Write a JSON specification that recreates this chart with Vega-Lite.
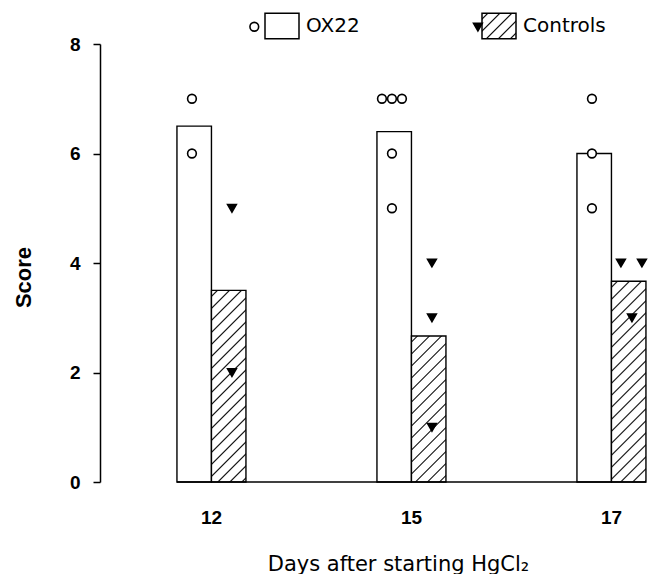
{
  "$schema": "https://vega.github.io/schema/vega-lite/v6.json",
  "width": 550,
  "height": 438,
  "autosize": {"type": "none"},
  "padding": {"left": 100, "top": 44, "right": 0, "bottom": 92},
  "background": "white",
  "data": {
    "values": [
      {"day": "12", "group": "OX22", "score": 7},
      {"day": "12", "group": "OX22", "score": 6},
      {"day": "12", "group": "Controls", "score": 5},
      {"day": "12", "group": "Controls", "score": 2},
      {"day": "15", "group": "OX22", "score": 7},
      {"day": "15", "group": "OX22", "score": 7},
      {"day": "15", "group": "OX22", "score": 7},
      {"day": "15", "group": "OX22", "score": 6},
      {"day": "15", "group": "OX22", "score": 5},
      {"day": "15", "group": "Controls", "score": 4},
      {"day": "15", "group": "Controls", "score": 3},
      {"day": "15", "group": "Controls", "score": 1},
      {"day": "17", "group": "OX22", "score": 7},
      {"day": "17", "group": "OX22", "score": 6},
      {"day": "17", "group": "OX22", "score": 5},
      {"day": "17", "group": "Controls", "score": 4},
      {"day": "17", "group": "Controls", "score": 4},
      {"day": "17", "group": "Controls", "score": 3}
    ]
  },
  "layer": [
    {
      "mark": {"type": "bar", "stroke": "black", "strokeWidth": 1.4},
      "encoding": {
        "x": {
          "field": "day", "type": "ordinal", "title": "Days after starting HgCl₂",
          "scale": {"type": "band", "domain": ["12", "15", "17"], "paddingInner": 0.655, "paddingOuter": 0.2025, "align": 0.95},
          "axis": {
            "domain": false, "ticks": false, "tickSize": 0, "labelAngle": 0,
            "labelFontSize": 19, "labelFontWeight": "bold", "labelPadding": 26,
            "titleFont": "DejaVu Sans", "titleFontSize": 21, "titleFontWeight": "normal",
            "titleX": 298, "titleY": 88, "titleBaseline": "alphabetic", "titleAlign": "center", "titleAnchor": null
          }
        },
        "xOffset": {"field": "group", "type": "nominal", "scale": {"domain": ["OX22", "Controls"], "paddingInner": 0, "paddingOuter": 0}},
        "y": {
          "aggregate": "mean", "field": "score", "type": "quantitative", "title": "Score",
          "scale": {"domain": [0, 8], "nice": false},
          "axis": {
            "values": [0, 2, 4, 6, 8], "tickSize": 7, "tickWidth": 1.5, "domainWidth": 1.5,
            "labelFontSize": 19, "labelFontWeight": "bold", "labelPadding": 13,
            "titleFontSize": 22, "titleFontWeight": "bold", "titleX": -77, "titleY": 233,
            "titleAngle": -90, "titleAlign": "center", "titleBaseline": "middle", "titleAnchor": null
          }
        },
        "fill": {
          "field": "group", "type": "nominal", "sort": "descending",
          "scale": {"range": [
            "white",
            {"expr": "{gradient: 'linear', x1: 0, y1: 0, x2: 1.12, y2: 0.84, stops: [{offset: 0.0756, color: '#fff'}, {offset: 0.1008, color: '#000'}, {offset: 0.1260, color: '#fff'}, {offset: 0.2773, color: '#fff'}, {offset: 0.3025, color: '#000'}, {offset: 0.3277, color: '#fff'}, {offset: 0.4790, color: '#fff'}, {offset: 0.5042, color: '#000'}, {offset: 0.5294, color: '#fff'}, {offset: 0.6807, color: '#fff'}, {offset: 0.7059, color: '#000'}, {offset: 0.7311, color: '#fff'}, {offset: 0.8824, color: '#fff'}, {offset: 0.9076, color: '#000'}, {offset: 0.9328, color: '#fff'}]}"}
          ]},
          "legend": {
            "orient": "none", "legendX": 164, "legendY": -36.25, "direction": "horizontal", "columns": 2,
            "columnPadding": 119, "title": null, "padding": 0,
            "symbolType": "M-1,-0.75H1V0.75H-1Z", "symbolSize": 1156, "symbolStrokeWidth": 1.5, "symbolStrokeColor": "black",
            "labelFont": "DejaVu Sans", "labelFontSize": 20, "labelColor": "black", "labelOffset": 6
          },
          "condition": [
            {
              "test": "datum.group === 'Controls' && datum.day === '12'",
              "value": {"gradient": "linear", "x1": 0, "y1": 0, "x2": 0.2058, "y2": 1.143, "stops": [
                {"offset": 0.0199, "color": "#fff"}, {"offset": 0.0265, "color": "#000"}, {"offset": 0.0331, "color": "#fff"},
                {"offset": 0.0730, "color": "#fff"}, {"offset": 0.0796, "color": "#000"}, {"offset": 0.0862, "color": "#fff"},
                {"offset": 0.1261, "color": "#fff"}, {"offset": 0.1327, "color": "#000"}, {"offset": 0.1393, "color": "#fff"},
                {"offset": 0.1791, "color": "#fff"}, {"offset": 0.1857, "color": "#000"}, {"offset": 0.1923, "color": "#fff"},
                {"offset": 0.2322, "color": "#fff"}, {"offset": 0.2388, "color": "#000"}, {"offset": 0.2454, "color": "#fff"},
                {"offset": 0.2853, "color": "#fff"}, {"offset": 0.2919, "color": "#000"}, {"offset": 0.2985, "color": "#fff"},
                {"offset": 0.3383, "color": "#fff"}, {"offset": 0.3449, "color": "#000"}, {"offset": 0.3515, "color": "#fff"},
                {"offset": 0.3914, "color": "#fff"}, {"offset": 0.3980, "color": "#000"}, {"offset": 0.4046, "color": "#fff"},
                {"offset": 0.4445, "color": "#fff"}, {"offset": 0.4511, "color": "#000"}, {"offset": 0.4577, "color": "#fff"},
                {"offset": 0.4976, "color": "#fff"}, {"offset": 0.5042, "color": "#000"}, {"offset": 0.5108, "color": "#fff"},
                {"offset": 0.5506, "color": "#fff"}, {"offset": 0.5572, "color": "#000"}, {"offset": 0.5638, "color": "#fff"},
                {"offset": 0.6037, "color": "#fff"}, {"offset": 0.6103, "color": "#000"}, {"offset": 0.6169, "color": "#fff"},
                {"offset": 0.6568, "color": "#fff"}, {"offset": 0.6634, "color": "#000"}, {"offset": 0.6700, "color": "#fff"},
                {"offset": 0.7098, "color": "#fff"}, {"offset": 0.7164, "color": "#000"}, {"offset": 0.7230, "color": "#fff"},
                {"offset": 0.7629, "color": "#fff"}, {"offset": 0.7695, "color": "#000"}, {"offset": 0.7761, "color": "#fff"},
                {"offset": 0.8160, "color": "#fff"}, {"offset": 0.8226, "color": "#000"}, {"offset": 0.8292, "color": "#fff"},
                {"offset": 0.8690, "color": "#fff"}, {"offset": 0.8756, "color": "#000"}, {"offset": 0.8822, "color": "#fff"},
                {"offset": 0.9221, "color": "#fff"}, {"offset": 0.9287, "color": "#000"}, {"offset": 0.9353, "color": "#fff"},
                {"offset": 0.9752, "color": "#fff"}, {"offset": 0.9818, "color": "#000"}, {"offset": 0.9884, "color": "#fff"}
              ]}
            },
            {
              "test": "datum.group === 'Controls' && datum.day === '15'",
              "value": {"gradient": "linear", "x1": 0, "y1": 0, "x2": 0.2767, "y2": 1.1709, "stops": [
                {"offset": 0.0249, "color": "#fff"}, {"offset": 0.0332, "color": "#000"}, {"offset": 0.0415, "color": "#fff"},
                {"offset": 0.0914, "color": "#fff"}, {"offset": 0.0997, "color": "#000"}, {"offset": 0.1080, "color": "#fff"},
                {"offset": 0.1579, "color": "#fff"}, {"offset": 0.1662, "color": "#000"}, {"offset": 0.1745, "color": "#fff"},
                {"offset": 0.2244, "color": "#fff"}, {"offset": 0.2327, "color": "#000"}, {"offset": 0.2410, "color": "#fff"},
                {"offset": 0.2909, "color": "#fff"}, {"offset": 0.2992, "color": "#000"}, {"offset": 0.3075, "color": "#fff"},
                {"offset": 0.3574, "color": "#fff"}, {"offset": 0.3657, "color": "#000"}, {"offset": 0.3740, "color": "#fff"},
                {"offset": 0.4238, "color": "#fff"}, {"offset": 0.4321, "color": "#000"}, {"offset": 0.4404, "color": "#fff"},
                {"offset": 0.4903, "color": "#fff"}, {"offset": 0.4986, "color": "#000"}, {"offset": 0.5069, "color": "#fff"},
                {"offset": 0.5568, "color": "#fff"}, {"offset": 0.5651, "color": "#000"}, {"offset": 0.5734, "color": "#fff"},
                {"offset": 0.6233, "color": "#fff"}, {"offset": 0.6316, "color": "#000"}, {"offset": 0.6399, "color": "#fff"},
                {"offset": 0.6898, "color": "#fff"}, {"offset": 0.6981, "color": "#000"}, {"offset": 0.7064, "color": "#fff"},
                {"offset": 0.7562, "color": "#fff"}, {"offset": 0.7645, "color": "#000"}, {"offset": 0.7728, "color": "#fff"},
                {"offset": 0.8227, "color": "#fff"}, {"offset": 0.8310, "color": "#000"}, {"offset": 0.8393, "color": "#fff"},
                {"offset": 0.8892, "color": "#fff"}, {"offset": 0.8975, "color": "#000"}, {"offset": 0.9058, "color": "#fff"},
                {"offset": 0.9557, "color": "#fff"}, {"offset": 0.9640, "color": "#000"}, {"offset": 0.9723, "color": "#fff"}
              ]}
            },
            {
              "test": "datum.group === 'Controls' && datum.day === '17'",
              "value": {"gradient": "linear", "x1": 0, "y1": 0, "x2": 0.1956, "y2": 1.1382, "stops": [
                {"offset": 0.0191, "color": "#fff"}, {"offset": 0.0255, "color": "#000"}, {"offset": 0.0319, "color": "#fff"},
                {"offset": 0.0701, "color": "#fff"}, {"offset": 0.0765, "color": "#000"}, {"offset": 0.0829, "color": "#fff"},
                {"offset": 0.1211, "color": "#fff"}, {"offset": 0.1275, "color": "#000"}, {"offset": 0.1339, "color": "#fff"},
                {"offset": 0.1721, "color": "#fff"}, {"offset": 0.1785, "color": "#000"}, {"offset": 0.1849, "color": "#fff"},
                {"offset": 0.2231, "color": "#fff"}, {"offset": 0.2295, "color": "#000"}, {"offset": 0.2359, "color": "#fff"},
                {"offset": 0.2742, "color": "#fff"}, {"offset": 0.2806, "color": "#000"}, {"offset": 0.2870, "color": "#fff"},
                {"offset": 0.3252, "color": "#fff"}, {"offset": 0.3316, "color": "#000"}, {"offset": 0.3380, "color": "#fff"},
                {"offset": 0.3762, "color": "#fff"}, {"offset": 0.3826, "color": "#000"}, {"offset": 0.3890, "color": "#fff"},
                {"offset": 0.4272, "color": "#fff"}, {"offset": 0.4336, "color": "#000"}, {"offset": 0.4400, "color": "#fff"},
                {"offset": 0.4782, "color": "#fff"}, {"offset": 0.4846, "color": "#000"}, {"offset": 0.4910, "color": "#fff"},
                {"offset": 0.5292, "color": "#fff"}, {"offset": 0.5356, "color": "#000"}, {"offset": 0.5420, "color": "#fff"},
                {"offset": 0.5802, "color": "#fff"}, {"offset": 0.5866, "color": "#000"}, {"offset": 0.5930, "color": "#fff"},
                {"offset": 0.6312, "color": "#fff"}, {"offset": 0.6376, "color": "#000"}, {"offset": 0.6440, "color": "#fff"},
                {"offset": 0.6822, "color": "#fff"}, {"offset": 0.6886, "color": "#000"}, {"offset": 0.6950, "color": "#fff"},
                {"offset": 0.7332, "color": "#fff"}, {"offset": 0.7396, "color": "#000"}, {"offset": 0.7460, "color": "#fff"},
                {"offset": 0.7843, "color": "#fff"}, {"offset": 0.7907, "color": "#000"}, {"offset": 0.7971, "color": "#fff"},
                {"offset": 0.8353, "color": "#fff"}, {"offset": 0.8417, "color": "#000"}, {"offset": 0.8481, "color": "#fff"},
                {"offset": 0.8863, "color": "#fff"}, {"offset": 0.8927, "color": "#000"}, {"offset": 0.8991, "color": "#fff"},
                {"offset": 0.9373, "color": "#fff"}, {"offset": 0.9437, "color": "#000"}, {"offset": 0.9501, "color": "#fff"},
                {"offset": 0.9883, "color": "#fff"}, {"offset": 0.9947, "color": "#000"}, {"offset": 1.0, "color": "#fff"}
              ]}
            }
          ]
        }
      }
    },
    {
      "data": {"values": [{}]},
      "mark": {"type": "rule", "stroke": "black", "strokeWidth": 1.5},
      "encoding": {
        "x": {"datum": "12", "type": "ordinal", "bandPosition": 0},
        "x2": {"datum": "17", "bandPosition": 1},
        "y": {"datum": 0, "type": "quantitative"}
      }
    },
    {
      "transform": [
        {"window": [{"op": "row_number", "as": "k"}, {"op": "count", "as": "n"}], "groupby": ["day", "group", "score"], "frame": [null, null]},
        {"filter": "datum.n == 1"}
      ],
      "mark": {"type": "point", "filled": true, "size": 76, "stroke": "black", "strokeWidth": 1.6, "opacity": 1},
      "encoding": {
        "x": {"field": "day", "type": "ordinal", "title": "Days after starting HgCl₂"},
        "xOffset": {"field": "group", "type": "nominal", "scale": {"type": "point", "domain": ["OX22", "Controls"], "range": [15, 55], "padding": 0}},
        "y": {"field": "score", "type": "quantitative", "title": "Score"},
        "shape": {
          "field": "group", "type": "nominal",
          "scale": {"domain": ["OX22", "Controls"], "range": ["circle", "triangle-down"]},
          "legend": {
            "orient": "none", "legendX": 148.8, "legendY": -23.2, "direction": "horizontal", "columns": 2,
            "columnPadding": 206.6, "title": null, "padding": 0, "labelExpr": "''", "labelOffset": 0, "labelFontSize": 1,
            "symbolSize": 76, "symbolStrokeWidth": 1.6
          }
        },
        "color": {"field": "group", "type": "nominal", "scale": {"domain": ["OX22", "Controls"], "range": ["white", "black"]}}
      }
    },
    {
      "transform": [
        {"window": [{"op": "row_number", "as": "k"}, {"op": "count", "as": "n"}], "groupby": ["day", "group", "score"], "frame": [null, null]},
        {"filter": "datum.n > 1 && datum.group === 'OX22'"}
      ],
      "mark": {"type": "point", "filled": true, "size": 76, "stroke": "black", "strokeWidth": 1.6, "opacity": 1},
      "encoding": {
        "x": {"field": "day", "type": "ordinal", "title": "Days after starting HgCl₂"},
        "xOffset": {"field": "k", "type": "ordinal", "scale": {"type": "point", "domain": [1, 2, 3], "range": [5, 25], "padding": 0}},
        "y": {"field": "score", "type": "quantitative", "title": "Score"},
        "shape": {"field": "group", "type": "nominal"},
        "color": {"field": "group", "type": "nominal"}
      }
    },
    {
      "transform": [
        {"window": [{"op": "row_number", "as": "k"}, {"op": "count", "as": "n"}], "groupby": ["day", "group", "score"], "frame": [null, null]},
        {"filter": "datum.n > 1 && datum.group === 'Controls'"}
      ],
      "mark": {"type": "point", "filled": true, "size": 76, "stroke": "black", "strokeWidth": 1.6, "opacity": 1},
      "encoding": {
        "x": {"field": "day", "type": "ordinal", "title": "Days after starting HgCl₂"},
        "xOffset": {"field": "k", "type": "ordinal", "scale": {"type": "point", "domain": [1, 2], "range": [44, 65], "padding": 0}},
        "y": {"field": "score", "type": "quantitative", "title": "Score"},
        "shape": {"field": "group", "type": "nominal"},
        "color": {"field": "group", "type": "nominal"}
      }
    }
  ],
  "resolve": {"scale": {"xOffset": "independent"}},
  "config": {
    "view": {"stroke": null},
    "font": "Liberation Sans",
    "axis": {"labelColor": "black", "titleColor": "black", "domainColor": "black", "tickColor": "black", "grid": false}
  }
}
